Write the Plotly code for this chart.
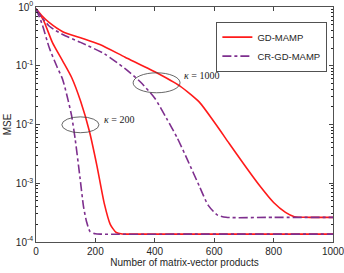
import plotly.graph_objects as go

# ---------------- data ----------------
x_gd_200 = [0, 25, 55, 90, 120, 150, 180, 205, 230, 250, 270, 290, 320, 500, 700, 1000]
mse_gd_200 = [0.93, 0.60, 0.25, 0.12, 0.063, 0.025, 0.0076, 0.0020, 4.5e-4, 2.0e-4,
              1.45e-4, 1.37e-4, 1.36e-4, 1.36e-4, 1.36e-4, 1.36e-4]

x_cr_200 = [0, 20, 45, 70, 90, 108, 120, 132, 148, 160, 170, 182, 200, 220, 500, 1000]
mse_cr_200 = [0.93, 0.52, 0.20, 0.098, 0.058, 0.026, 0.014, 0.0056, 0.00126, 4.0e-4,
              2.24e-4, 1.51e-4, 1.38e-4, 1.36e-4, 1.36e-4, 1.36e-4]

x_gd_1000 = [0, 20, 45, 90, 150, 215, 300, 400, 485, 550, 600, 650, 700, 750, 800,
             840, 870, 920, 1000]
mse_gd_1000 = [0.93, 0.71, 0.54, 0.38, 0.30, 0.23, 0.14, 0.079, 0.045, 0.024, 0.011,
               0.0048, 0.0021, 9.5e-4, 4.7e-4, 3.2e-4, 2.7e-4, 2.63e-4, 2.63e-4]

x_cr_1000 = [0, 20, 45, 90, 150, 230, 300, 350, 400, 440, 475, 510, 550, 580, 610,
             640, 800, 1000]
mse_cr_1000 = [0.93, 0.66, 0.47, 0.34, 0.25, 0.16, 0.089, 0.054, 0.028, 0.0126, 0.006,
               0.0025, 8.9e-4, 4.2e-4, 2.9e-4, 2.63e-4, 2.63e-4, 2.63e-4]

x_ticks = [0, 200, 400, 600, 800, 1000]
y_ticks = [1e-4, 1e-3, 1e-2, 1e-1, 1]
y_tick_labels = ["10<sup>-4</sup>", "10<sup>-3</sup>", "10<sup>-2</sup>",
                 "10<sup>-1</sup>", "10<sup>0</sup>"]
series_names = ["GD-MAMP", "CR-GD-MAMP"]

# ---------------- styling ----------------
RED = "#FF1A1A"
PURPLE = "#7E2F8E"
AX = "#262626"
FONT = "Liberation Sans, Arial, sans-serif"
Y_MIN_LOG, Y_MAX_LOG = -4, 0

fig = go.Figure()

def add(x, y, name, color, dash, show):
    fig.add_trace(go.Scatter(
        x=x, y=y, mode="lines", name=name, legendgroup=name, showlegend=show,
        line=dict(color=color, width=1.6, dash=dash, shape="spline", smoothing=0.6),
    ))

add(x_gd_1000, mse_gd_1000, series_names[0], RED, "solid", True)
add(x_gd_200, mse_gd_200, series_names[0], RED, "solid", False)
add(x_cr_1000, mse_cr_1000, series_names[1], PURPLE, "dashdot", True)
add(x_cr_200, mse_cr_200, series_names[1], PURPLE, "dashdot", False)

minor_vals = [m * 10 ** e for e in range(-4, 0) for m in range(2, 10)]

fig.update_xaxes(
    range=[0, 1000], tickvals=x_ticks, ticks="inside", ticklen=4, mirror="allticks",
    showline=True, linecolor=AX, linewidth=0.8, showgrid=False, zeroline=False,
    automargin=False, ticklabeloverflow="allow",
    tickfont=dict(size=10, color=AX, family=FONT),
    title=dict(text="Number of matrix-vector products", font=dict(size=10, color=AX, family=FONT),
               standoff=2),
)
fig.update_yaxes(
    type="log", range=[Y_MIN_LOG, Y_MAX_LOG], tickvals=y_ticks, ticktext=y_tick_labels,
    ticks="inside", ticklen=4, mirror="allticks", showline=True, linecolor=AX,
    linewidth=0.8, showgrid=False, zeroline=False, automargin=False,
    ticklabeloverflow="allow",
    tickfont=dict(size=10, color=AX, family=FONT),
    minor=dict(tickvals=minor_vals, ticks="inside", ticklen=2, tickcolor=AX, showgrid=False),
    title=dict(text="MSE", font=dict(size=10, color=AX, family=FONT), standoff=2),
)

def ypaper(logv):
    return (logv - Y_MIN_LOG) / (Y_MAX_LOG - Y_MIN_LOG)

# ellipses: x in data units, y in log10 units -> paper
ellipses = [dict(x0=87, x1=212, y0=-2.14, y1=-1.87), dict(x0=327, x1=485, y0=-1.46, y1=-1.12)]
for e in ellipses:
    fig.add_shape(type="circle", xref="x", yref="paper",
                  x0=e["x0"], x1=e["x1"], y0=ypaper(e["y0"]), y1=ypaper(e["y1"]),
                  line=dict(color="#404040", width=0.8))

labels = [dict(x=222, y=-1.92, text="<i>κ</i> = 200"), dict(x=492, y=-1.16, text="<i>κ</i> = 1000")]
for a in labels:
    fig.add_annotation(x=a["x"], y=ypaper(a["y"]), xref="x", yref="paper", text=a["text"],
                       showarrow=False, xanchor="left", yanchor="middle",
                       font=dict(size=10, color="#1a1a1a",
                                 family="Liberation Serif, Times New Roman, serif"))

fig.update_layout(
    width=344, height=273, margin=dict(l=36, r=11, t=7, b=31),
    paper_bgcolor="white", plot_bgcolor="white",
    font=dict(family=FONT, size=10, color=AX),
    legend=dict(x=0.608, y=0.937, xanchor="left", yanchor="top", bordercolor=AX, borderwidth=0.8,
                bgcolor="white", font=dict(size=9.5, color=AX, family=FONT),
                itemwidth=30, tracegroupgap=0, traceorder="normal"),
)

fig.write_html("out.html", config={"displayModeBar": False, "staticPlot": True},
               post_script="document.body.style.margin='0';document.body.style.overflow='hidden';")
